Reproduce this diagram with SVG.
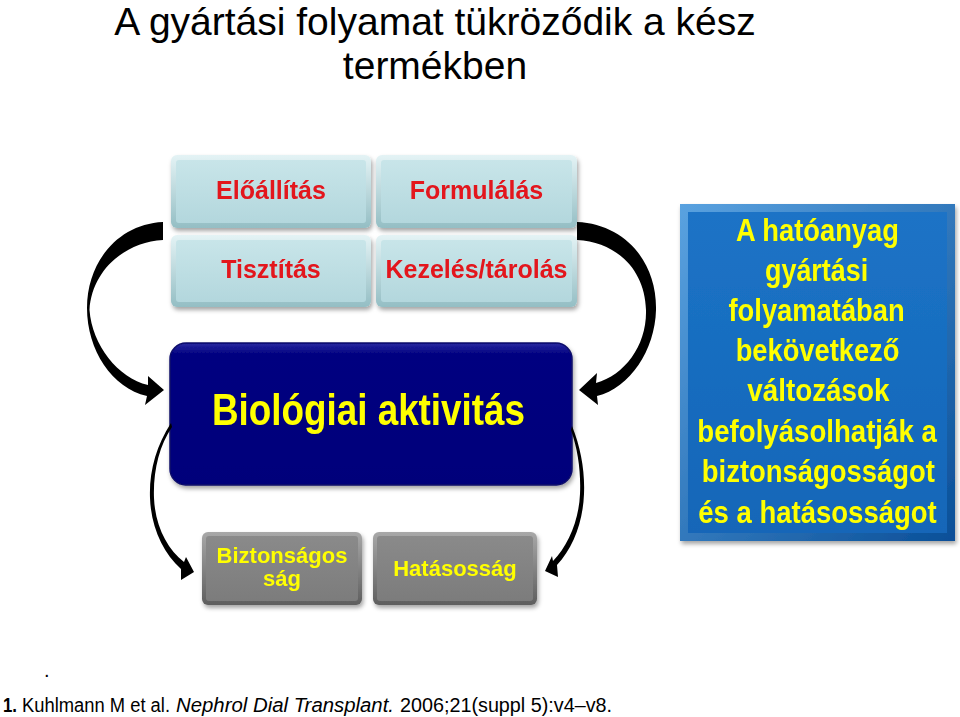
<svg xmlns="http://www.w3.org/2000/svg" width="960" height="717" viewBox="0 0 960 717">
<defs>
<linearGradient id="gLightO" x1="0" y1="0" x2="0" y2="1"><stop offset="0" stop-color="#E4F3F5"/><stop offset="1" stop-color="#94BEC4"/></linearGradient>
<linearGradient id="gLightI" x1="0" y1="0" x2="0" y2="1"><stop offset="0" stop-color="#C8E5E9"/><stop offset="1" stop-color="#B3D7DD"/></linearGradient>
<linearGradient id="gGreyO" x1="0" y1="0" x2="0" y2="1"><stop offset="0" stop-color="#A8A8A8"/><stop offset="1" stop-color="#5E5E5E"/></linearGradient>
<linearGradient id="gGreyI" x1="0" y1="0" x2="0" y2="1"><stop offset="0" stop-color="#8A8A8A"/><stop offset="1" stop-color="#7C7C7C"/></linearGradient>
<linearGradient id="gNavy" x1="0" y1="0" x2="0" y2="1"><stop offset="0" stop-color="#2A2AA0"/><stop offset="0.08" stop-color="#000080"/><stop offset="1" stop-color="#00007A"/></linearGradient>
<linearGradient id="gBlueO" x1="0" y1="0" x2="1" y2="1"><stop offset="0" stop-color="#5AA2E0"/><stop offset="1" stop-color="#0A4F98"/></linearGradient>
<linearGradient id="gBlueI" x1="0" y1="0" x2="0" y2="1"><stop offset="0" stop-color="#1C73C6"/><stop offset="1" stop-color="#1366B8"/></linearGradient>
<filter id="sh" x="-10%" y="-10%" width="125%" height="130%"><feDropShadow dx="1.5" dy="3" stdDeviation="2" flood-color="#000" flood-opacity="0.35"/></filter>
</defs>
<style>
.title{font-family:"Liberation Sans",Arial,sans-serif;font-size:39px;fill:#000;text-anchor:middle}
.red{font-family:"Liberation Sans",Arial,sans-serif;font-weight:bold;font-size:25px;fill:#E3121B;text-anchor:middle}
.yel{font-family:"Liberation Sans",Arial,sans-serif;font-weight:bold;fill:#FFFF00;text-anchor:middle}
.blue{font-family:"Liberation Sans",Arial,sans-serif;font-weight:bold;font-size:31px;fill:#FFFF00;text-anchor:middle}
.foot{font-family:"Liberation Sans",Arial,sans-serif;font-size:20px;fill:#000}
.arrow{fill:#000}
</style>
<rect width="960" height="717" fill="#fff"/>

<g id="title">
<text class="title" x="435" y="35">A gyártási folyamat tükröződik a kész</text>
<text class="title" x="435" y="79">termékben</text>
</g>

<g id="n-eloallitas" filter="url(#sh)">
<rect x="171" y="155" width="200" height="73" rx="6" fill="url(#gLightO)"/>
<rect x="176" y="160" width="190" height="63" rx="3" fill="url(#gLightI)"/>
<text class="red" x="271" y="199">Előállítás</text>
</g>
<g id="n-formulalas" filter="url(#sh)">
<rect x="376" y="155" width="201" height="73" rx="6" fill="url(#gLightO)"/>
<rect x="381" y="160" width="191" height="63" rx="3" fill="url(#gLightI)"/>
<text class="red" x="476.5" y="199">Formulálás</text>
</g>
<g id="n-tisztitas" filter="url(#sh)">
<rect x="171" y="235" width="200" height="72" rx="6" fill="url(#gLightO)"/>
<rect x="176" y="240" width="190" height="62" rx="3" fill="url(#gLightI)"/>
<text class="red" x="271" y="278">Tisztítás</text>
</g>
<g id="n-kezeles" filter="url(#sh)">
<rect x="376" y="235" width="201" height="72" rx="6" fill="url(#gLightO)"/>
<rect x="381" y="240" width="191" height="62" rx="3" fill="url(#gLightI)"/>
<text class="red" x="476.5" y="278">Kezelés/tárolás</text>
</g>

<g id="n-biologiai" filter="url(#sh)">
<rect x="170" y="343" width="402" height="142" rx="16" fill="url(#gNavy)" stroke="#0A0A6A" stroke-width="1.5"/>
<text class="yel" x="368.5" y="425" font-size="44" textLength="313" lengthAdjust="spacingAndGlyphs">Biológiai aktivitás</text>
</g>

<g id="n-biztonsagossag" filter="url(#sh)">
<rect x="202" y="532" width="160" height="73" rx="6" fill="url(#gGreyO)"/>
<rect x="206" y="536" width="152" height="65" rx="3" fill="url(#gGreyI)"/>
<text class="yel" x="282" y="563" font-size="22">Biztonságos</text>
<text class="yel" x="282" y="586" font-size="22">ság</text>
</g>
<g id="n-hatasossag" filter="url(#sh)">
<rect x="373" y="532" width="164" height="73" rx="6" fill="url(#gGreyO)"/>
<rect x="377" y="536" width="156" height="65" rx="3" fill="url(#gGreyI)"/>
<text class="yel" x="455" y="576" font-size="22">Hatásosság</text>
</g>

<g id="n-info" filter="url(#sh)">
<rect x="680" y="204" width="275" height="337" fill="url(#gBlueO)"/>
<rect x="688" y="212" width="259" height="321" fill="url(#gBlueI)"/>
<g transform="translate(817.5,0) scale(0.89,1)">
<text class="blue" x="0" y="241" textLength="183" lengthAdjust="spacingAndGlyphs">A hatóanyag</text>
<text class="blue" x="-1" y="281" textLength="116" lengthAdjust="spacingAndGlyphs">gyártási</text>
<text class="blue" x="-1" y="321" textLength="198" lengthAdjust="spacingAndGlyphs">folyamatában</text>
<text class="blue" x="0" y="361" textLength="184" lengthAdjust="spacingAndGlyphs">bekövetkező</text>
<text class="blue" x="1" y="401" textLength="160" lengthAdjust="spacingAndGlyphs">változások</text>
<text class="blue" x="-0.5" y="442" textLength="269" lengthAdjust="spacingAndGlyphs">befolyásolhatják a</text>
<text class="blue" x="1" y="482" textLength="262" lengthAdjust="spacingAndGlyphs">biztonságosságot</text>
<text class="blue" x="0" y="523" textLength="268" lengthAdjust="spacingAndGlyphs">és a hatásosságot</text>
</g>
</g>

<g id="connectors">
<path class="arrow" d="M163,222 C118,224 87,262 87,308 C87,350 112,388 147,396 L145,405 L164,390 L148,376 L148,385 C118,378 92,345 89.5,310 C92,270 125,242 163,240 Z"/>
<path class="arrow" d="M577,222 C625,224 657,262 656,310 C655,350 630,388 597,396 L598,405 L579,390 L597,373 L596,383 C625,375 647,345 646,310 C645,270 617,242 577,240 Z"/>
<path class="arrow" d="M171,423 C156,446 149,472 150,498 C151,527 163,553 181,569 L181,580 L194,572 L186,557 L184,562 C167,549 155,525 154,498 C153,472 159,446 172,427 Z"/>
<path class="arrow" d="M572,426 C581,448 585,472 584,494 C583,522 573,548 557,565 L558,577 L545,571 L552,556 L553,561 C568,546 579,520 580,494 C581,472 578,450 571,430 Z"/>
</g>

<g id="footnote">
<text class="foot" x="44" y="677">.</text>
<text class="foot" x="3" y="712" font-weight="bold" textLength="14" lengthAdjust="spacingAndGlyphs">1.</text>
<text class="foot" x="22" y="712" textLength="148" lengthAdjust="spacingAndGlyphs">Kuhlmann M et al.</text>
<text class="foot" x="176" y="712" font-style="italic" textLength="218" lengthAdjust="spacingAndGlyphs">Nephrol Dial Transplant.</text>
<text class="foot" x="400" y="712" textLength="212" lengthAdjust="spacingAndGlyphs">2006;21(suppl 5):v4–v8.</text>
</g>
</svg>
